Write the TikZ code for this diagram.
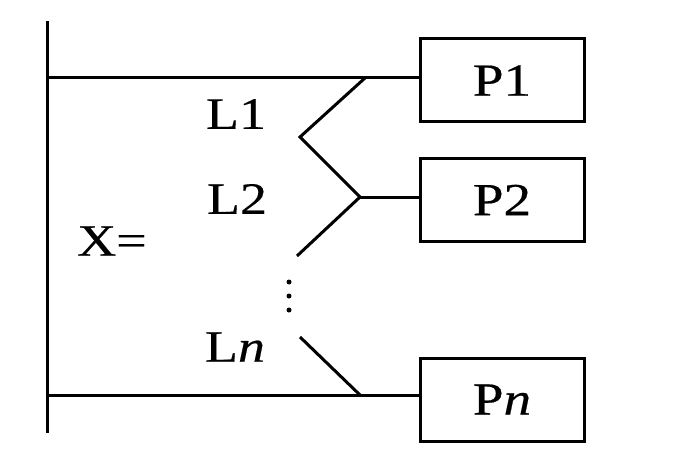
\documentclass[tikz,border=0pt]{standalone}
\usepackage{fontspec}
\setmainfont[FakeStretch=1.2,FakeBold=0.4]{Liberation Serif}
\begin{document}
\begin{tikzpicture}[x=1pt,y=-1pt,line width=3pt,line join=miter,
  pbox/.style={draw,minimum width=164pt,minimum height=83pt,inner sep=0pt,font=\fontsize{46}{52}\selectfont},
  lbl/.style={inner sep=0pt,font=\fontsize{45}{50}\selectfont}]
\useasboundingbox (0,0) rectangle (695,449);
% boxes
\node[pbox] (p1) at (502,80.5) {P1};
\node[pbox] (p2) at (502,200) {P2};
\node[pbox] (pn) at (502,399.5) {P\textit{n}};
% bus
\coordinate (bt) at (47,21);
\coordinate (bb) at (47,433);
\draw (bt) -- (bb);
% top and bottom lines
\coordinate (h1) at (47,78);
\coordinate (hn) at (47,395);
\draw (h1) -- (h1 -| p1.west);
\draw (hn) -- (hn -| pn.west);
% zigzag
\coordinate (j1) at (365,78);
\coordinate (v1) at (300,137);
\coordinate (j2) at (360,197);
\coordinate (e2) at (297,256);
\draw (j1) -- (v1) -- (j2) -- (e2);
\draw (j2) -- (j2 -| p2.west);
% Ln line
\coordinate (sn) at (300,337);
\coordinate (jn) at (360,395);
\draw (sn) -- (jn);
% dots
\foreach \yy in {282,296,310} \fill (289,\yy) circle (2.5pt);
% labels
\node[lbl] (l1) at (236,114) {L1};
\node[lbl] (l2) at (237,199) {L2};
\node[lbl] (x) at (112,241) {X=};
\node[lbl] (ln) at (235,347) {L\textit{n}};
\end{tikzpicture}
\end{document}
